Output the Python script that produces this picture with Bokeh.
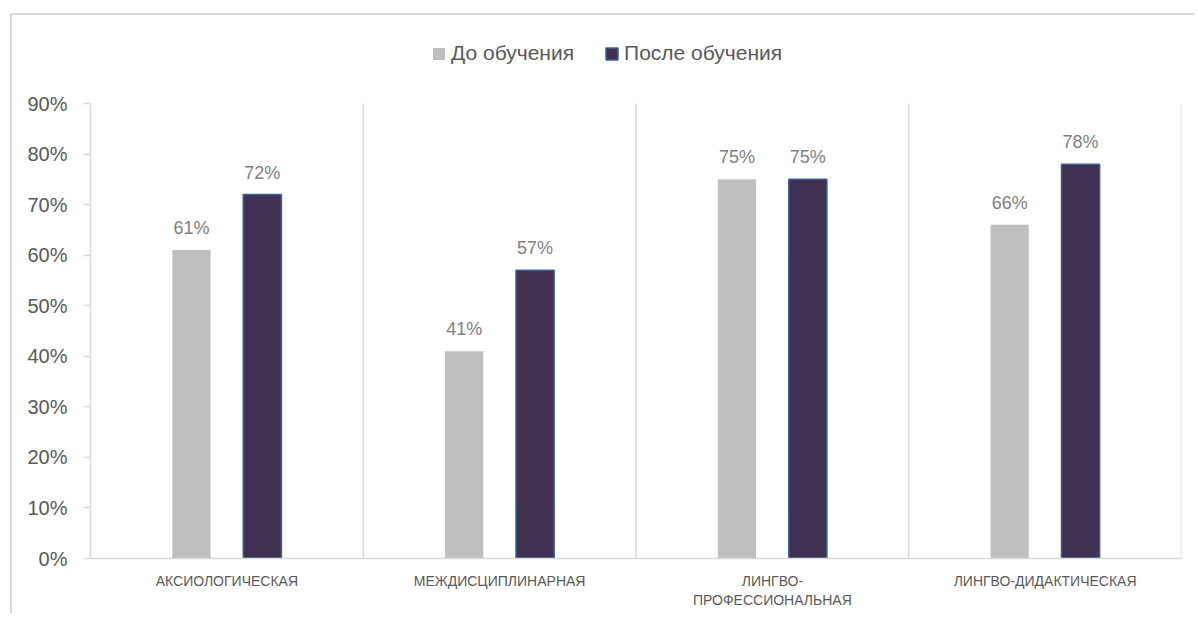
from bokeh.plotting import figure
from bokeh.models import (ColumnDataSource, FactorRange, Range1d, Legend, LegendItem,
                          LabelSet, NumeralTickFormatter, FixedTicker)
from bokeh.core.properties import value
from bokeh.transform import dodge
from bokeh.embed import file_html
from bokeh.resources import INLINE

categories = ["АКСИОЛОГИЧЕСКАЯ", "МЕЖДИСЦИПЛИНАРНАЯ", "ЛИНГВО-\nПРОФЕССИОНАЛЬНАЯ", "ЛИНГВО-ДИДАКТИЧЕСКАЯ"]
series_names = ["До обучения", "После обучения"]
before = [0.61, 0.41, 0.75, 0.66]
after = [0.72, 0.57, 0.75, 0.78]
y_ticks = [0.0, 0.1, 0.2, 0.3, 0.4, 0.5, 0.6, 0.7, 0.8, 0.9]

src = ColumnDataSource(dict(
    cat=categories,
    before=before,
    after=after,
    before_lbl=[f"{round(v*100)}%" for v in before],
    after_lbl=[f"{round(v*100)}%" for v in after],
))

FONT = "Liberation Sans"

# frame geometry (pixels)
frame_top_px, axis_top_px, axis_bottom_px = 30, 103, 558
y_max = y_ticks[-1]
y_end = y_max * (axis_bottom_px - frame_top_px) / (axis_bottom_px - axis_top_px)

p = figure(x_range=FactorRange(*categories, range_padding=0), y_range=Range1d(0, y_end),
           width=1184, height=600, output_backend="svg", toolbar_location=None,
           min_border_left=78, min_border_top=15, min_border_right=15, min_border_bottom=57)
p.styles = {"margin-left": "10px", "margin-top": "13px",
            "border-top": "2px solid #D9D9D9", "border-left": "2px solid #D9D9D9"}
p.outline_line_color = None
p.xgrid.visible = False
p.ygrid.visible = False

# category separators (boundaries between factors)
bounds = list(range(1, len(categories) + 1))
p.segment(x0=bounds, y0=[y_ticks[0]] * len(bounds), x1=bounds, y1=[y_max] * len(bounds),
          line_color="#D9D9D9", line_width=1.5)

r1 = p.vbar(x=dodge("cat", -0.13, range=p.x_range), top="before", width=0.14, source=src,
            fill_color="#BFBFBF", line_color=None)
r2 = p.vbar(x=dodge("cat", 0.13, range=p.x_range), top="after", width=0.14, source=src,
            fill_color="#403152", line_color="#3A6296", line_width=1.5)

lbl_kw = dict(text_font=value(FONT), text_font_size="18px", text_color="#7F7F7F",
              text_align="center", text_baseline="alphabetic", y_offset=16)
p.add_layout(LabelSet(x=dodge("cat", -0.13, range=p.x_range), y="before", text="before_lbl",
                      source=src, **lbl_kw))
p.add_layout(LabelSet(x=dodge("cat", 0.13, range=p.x_range), y="after", text="after_lbl",
                      source=src, **lbl_kw))

# y axis
p.yaxis.ticker = FixedTicker(ticks=y_ticks)
p.yaxis.bounds = (y_ticks[0], y_max)
p.yaxis.formatter = NumeralTickFormatter(format="0%")
p.yaxis.axis_line_color = "#D9D9D9"
p.yaxis.axis_line_width = 1.5
p.yaxis.major_tick_line_color = "#D9D9D9"
p.yaxis.major_tick_line_width = 1.5
p.yaxis.major_tick_out = 7
p.yaxis.major_tick_in = 0
p.yaxis.minor_tick_line_color = None
p.yaxis.major_label_standoff = 16
p.yaxis.major_label_text_font = FONT
p.yaxis.major_label_text_font_size = "20px"
p.yaxis.major_label_text_color = "#595959"

# x axis
p.xaxis.axis_line_color = "#D9D9D9"
p.xaxis.axis_line_width = 1.5
p.xaxis.major_tick_line_color = None
p.xaxis.minor_tick_line_color = None
p.xaxis.major_label_standoff = 8
p.xaxis.major_label_text_font = FONT
p.xaxis.major_label_text_font_size = "14px"
p.xaxis.major_label_text_color = "#595959"

legend = Legend(items=[LegendItem(label=series_names[0], renderers=[r1]),
                       LegendItem(label=series_names[1], renderers=[r2])],
                location=(341, 493), orientation="horizontal",
                glyph_width=15, glyph_height=15, label_standoff=5, spacing=30,
                padding=0, margin=0, border_line_color=None, background_fill_alpha=0,
                label_text_font=FONT, label_text_font_size="21px", label_text_color="#595959")
p.add_layout(legend, "center")

open("out.html", "w").write(file_html(p, INLINE))
